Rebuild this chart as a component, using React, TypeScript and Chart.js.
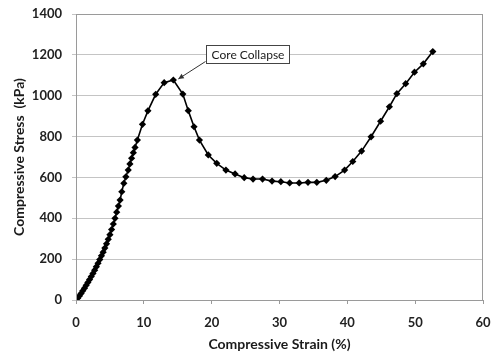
import React, { useEffect, useRef } from "react";
import { Chart, registerables } from "chart.js";

Chart.register(...registerables);

const strain: number[] = [
  0, 0.25, 0.5, 0.75, 1.0, 1.25, 1.5, 1.75, 2.0, 2.25, 2.5, 2.75, 3.0, 3.25, 3.5, 3.75,
  4.0, 4.25, 4.5, 4.75, 5.0, 5.25, 5.5, 5.75, 6.0, 6.25, 6.5, 6.75, 7.05, 7.35, 7.7, 7.95,
  8.2, 8.45, 8.7, 9.05, 9.8, 10.6, 11.75, 13.0, 14.35, 15.75, 16.55, 17.4, 18.2, 19.5,
  20.75, 22.1, 23.45, 24.8, 26.1, 27.5, 28.9, 30.2, 31.5, 32.9, 34.2, 35.5, 36.9, 38.2,
  39.6, 40.8, 42.1, 43.5, 44.9, 46.2, 47.3, 48.6, 49.9, 51.2, 52.6,
];

const stress: number[] = [
  0, 9, 20, 32, 45, 58, 72, 86, 100, 115, 130, 146, 163, 180, 198, 216,
  234, 254, 275, 297, 320, 345, 372, 400, 430, 460, 489, 530, 571, 603, 636, 666,
  694, 721, 747, 783, 860, 926, 1007, 1064, 1077, 1008, 927, 848, 783, 710,
  669, 636, 617, 599, 592, 592, 582, 579, 573, 573, 576, 576, 586, 604,
  636, 678, 729, 799, 875, 946, 1010, 1059, 1115, 1156, 1216,
];

const xTicks: number[] = [0, 10, 20, 30, 40, 50, 60];
const yTicks: number[] = [0, 200, 400, 600, 800, 1000, 1200, 1400];

const xTitle = "Compressive Strain (%)";
const yTitle = "Compressive Stress  (kPa)";
const annotationText = "Core Collapse";

const FONT = "Lato, 'Open Sans', 'Liberation Sans', sans-serif";

const annotationPlugin = {
  id: "coreCollapse",
  afterDraw(chart: any) {
    const ctx = chart.ctx as CanvasRenderingContext2D;
    const xs = chart.scales.x;
    const ys = chart.scales.y;
    const area = chart.chartArea;

    // plot-area border
    ctx.save();
    ctx.strokeStyle = "#9a9a9a";
    ctx.lineWidth = 1;
    ctx.strokeRect(Math.round(area.left) + 0.5, Math.round(area.top) + 0.5,
      Math.round(area.right - area.left) - 1, Math.round(area.bottom - area.top));
    ctx.restore();

    // first local peak (core collapse)
    let pi = 0;
    for (let i = 1; i < stress.length - 1; i++) {
      if (stress[i] >= stress[i - 1] && stress[i] > stress[i + 1]) { pi = i; break; }
    }
    const px = xs.getPixelForValue(strain[pi]);
    const py = ys.getPixelForValue(stress[pi]);

    // box
    ctx.save();
    ctx.font = `12px ${FONT}`;
    const tw = ctx.measureText(annotationText).width;
    const bx = Math.round(px + 33) + 0.5;
    const by = Math.round(py - 35) + 0.5;
    const bw = Math.round(tw + 10);
    const bh = 18;
    ctx.fillStyle = "#ffffff";
    ctx.fillRect(bx, by, bw, bh);
    ctx.strokeStyle = "#444444";
    ctx.lineWidth = 1;
    ctx.strokeRect(bx, by, bw, bh);
    ctx.fillStyle = "#1a1a1a";
    ctx.textAlign = "center";
    ctx.textBaseline = "middle";
    ctx.fillText(annotationText, bx + bw / 2, by + bh / 2 + 0.5);

    // arrow
    const tx0 = bx - 1;
    const ty0 = by + bh - 2;
    const tx1 = px + 5;
    const ty1 = py - 1;
    ctx.strokeStyle = "#333333";
    ctx.lineWidth = 1;
    ctx.beginPath();
    ctx.moveTo(tx0, ty0);
    ctx.lineTo(tx1, ty1);
    ctx.stroke();
    const ang = Math.atan2(ty1 - ty0, tx1 - tx0);
    const L = 6;
    ctx.fillStyle = "#333333";
    ctx.beginPath();
    ctx.moveTo(tx1, ty1);
    ctx.lineTo(tx1 - L * Math.cos(ang - 0.45), ty1 - L * Math.sin(ang - 0.45));
    ctx.lineTo(tx1 - L * Math.cos(ang + 0.45), ty1 - L * Math.sin(ang + 0.45));
    ctx.closePath();
    ctx.fill();
    ctx.restore();
  },
};

export default function App() {
  const ref = useRef<HTMLCanvasElement | null>(null);

  useEffect(() => {
    if (!ref.current) return;
    const data = strain.map((s, i) => ({ x: s, y: stress[i] }));
    const chart = new Chart(ref.current, {
      type: "scatter",
      data: {
        datasets: [
          {
            data,
            showLine: true,
            borderColor: "#000000",
            borderWidth: 1.6,
            backgroundColor: "#000000",
            pointStyle: "rectRot",
            pointRadius: 3.6,
            pointBorderWidth: 0,
            pointBackgroundColor: "#000000",
            tension: 0,
          } as any,
        ],
      },
      options: {
        responsive: false,
        animation: false,
        devicePixelRatio: 1,
        layout: { padding: { top: 14, right: 8, left: 0, bottom: 0 } },
        plugins: {
          legend: { display: false },
          tooltip: { enabled: false },
        },
        scales: {
          x: {
            type: "linear",
            min: 0,
            max: 60,
            afterBuildTicks: (scale: any) => {
              scale.ticks = xTicks.map((v) => ({ value: v }));
            },
            afterFit: (scale: any) => {
              scale.height = 54;
              scale.paddingRight = 0;
              scale.paddingLeft = 0;
            },
            grid: {
              drawOnChartArea: false,
              drawTicks: true,
              tickLength: 4,
              color: "#9a9a9a",
            },
            border: { display: true, color: "#9a9a9a" },
            ticks: {
              padding: 11,
              color: "#222222",
              font: { family: FONT, size: 13, weight: "bold" },
              callback: (v: any) => String(v),
            },
            title: {
              display: true,
              text: xTitle,
              color: "#1a1a1a",
              padding: { top: 0, bottom: 1 },
              font: { family: FONT, size: 14, weight: "bold" },
            },
          },
          y: {
            type: "linear",
            min: 0,
            max: 1400,
            afterBuildTicks: (scale: any) => {
              scale.ticks = yTicks.map((v) => ({ value: v }));
            },
            afterFit: (scale: any) => {
              scale.width = 76;
              scale.paddingTop = 0;
              scale.paddingBottom = 0;
            },
            grid: {
              drawOnChartArea: true,
              drawTicks: true,
              tickLength: 4,
              color: "#c4c4c4",
            },
            border: { display: true, color: "#9a9a9a" },
            ticks: {
              padding: 10,
              color: "#222222",
              font: { family: FONT, size: 13, weight: "bold" },
              callback: (v: any) => String(v),
            },
            title: {
              display: true,
              text: yTitle,
              color: "#1a1a1a",
              padding: { top: 11, bottom: 0 },
              font: { family: FONT, size: 14, weight: "bold" },
            },
          },
        },
      },
      plugins: [annotationPlugin],
    });
    return () => chart.destroy();
  }, []);

  return (
    <div
      style={{
        position: "fixed",
        left: 0,
        top: 0,
        width: 491,
        height: 354,
        background: "#ffffff",
      }}
    >
      <canvas ref={ref} width={491} height={354} style={{ width: 491, height: 354 }} />
    </div>
  );
}
